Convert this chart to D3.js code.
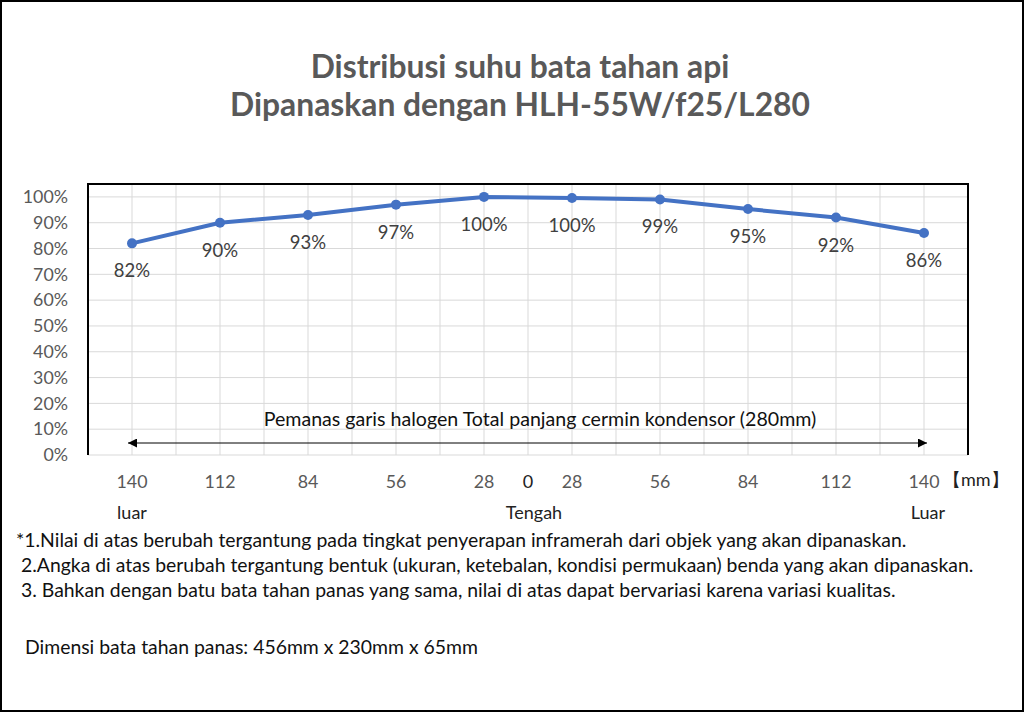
<!DOCTYPE html>
<html>
<head>
    <meta charset="utf-8" />
    <style>
        body { margin: 0; background: #fff; }
        svg text { font-family: Lato, "Open Sans", sans-serif; }
        .title { font-weight: bold; fill: #595959; font-size: 31.8px; }
        .grid line { stroke: #d9d9d9; stroke-width: 1; }
        .yaxis text { fill: #595959; font-size: 17.8px; }
        .xlab { fill: #595959; font-size: 17.8px; }
        .dark { fill: #222; font-size: 18px; }
        .arrowtext { fill: #111; font-size: 19.6px; }
        .dlabel { fill: #404040; font-size: 18.5px; }
        .note { fill: #111; font-size: 19.4px; }
    </style>
    <script src="https://d3js.org/d3.v7.min.js"></script>
</head>
<body>
<script>

// data
let positions = ["140", "112", "84", "56", "28", "28", "56", "84", "112", "140"];
let values = [0.82, 0.90, 0.93, 0.97, 1.00, 0.996, 0.99, 0.953, 0.92, 0.86];
let yTicks = [0, 0.1, 0.2, 0.3, 0.4, 0.5, 0.6, 0.7, 0.8, 0.9, 1.0];
let sideLabels = ["luar", "Tengah", "Luar"];
let titleLines = ["Distribusi suhu bata tahan api", "Dipanaskan dengan HLH-55W/f25/L280"];
let notes = [
    "*1.Nilai di atas berubah tergantung pada tingkat penyerapan inframerah dari objek yang akan dipanaskan.",
    " 2.Angka di atas berubah tergantung bentuk (ukuran, ketebalan, kondisi permukaan) benda yang akan dipanaskan.",
    " 3. Bahkan dengan batu bata tahan panas yang sama, nilai di atas dapat bervariasi karena variasi kualitas."
];
let dimensionNote = "Dimensi bata tahan panas: 456mm x 230mm x 65mm";
let arrowText = "Pemanas garis halogen Total panjang cermin kondensor (280mm)";

let W = 1024, H = 712;
let plot = { left: 88, right: 968, top: 184, bottom: 455 };

let svg = d3.select("body").append("svg")
    .attr("width", W)
    .attr("height", H);

svg.append("rect")
    .attr("x", 1).attr("y", 1)
    .attr("width", W - 2).attr("height", H - 2)
    .attr("fill", "#fff")
    .attr("stroke", "#000")
    .attr("stroke-width", 2);

// title
svg.selectAll("text.title")
    .data(titleLines)
    .enter()
    .append("text")
    .attr("class", "title")
    .attr("x", 520)
    .attr("y", (d, i) => 78 + i * 38)
    .attr("text-anchor", "middle")
    .text(d => d);

// scales
let idx = d3.range(positions.length);
let xScale = d3.scaleBand()
    .domain(idx)
    .range([plot.left, plot.right]);
let bw = xScale.bandwidth();
let cx = i => xScale(i) + bw / 2;

let yScale = d3.scaleLinear()
    .domain([0, 1.05])
    .range([plot.bottom, plot.top]);

// grid
let grid = svg.append("g").attr("class", "grid");
let vx = [];
idx.forEach(i => { vx.push(xScale(i)); vx.push(cx(i)); });
vx.push(plot.right);
grid.selectAll("line.v")
    .data(vx)
    .enter()
    .append("line")
    .attr("x1", d => d).attr("x2", d => d)
    .attr("y1", plot.top).attr("y2", plot.bottom);
grid.selectAll("line.h")
    .data(yTicks)
    .enter()
    .append("line")
    .attr("x1", plot.left).attr("x2", plot.right)
    .attr("y1", d => yScale(d)).attr("y2", d => yScale(d));

// frame (top, left, right)
svg.append("path")
    .attr("d", "M" + plot.left + "," + plot.bottom + "V" + plot.top + "H" + plot.right + "V" + plot.bottom)
    .attr("fill", "none")
    .attr("stroke", "#000")
    .attr("stroke-width", 2);

// y axis
let yAxis = d3.axisLeft(yScale)
    .tickValues(yTicks)
    .tickFormat(d3.format(".0%"))
    .tickSize(0)
    .tickPadding(20);
svg.append("g")
    .attr("class", "yaxis")
    .attr("transform", "translate(" + plot.left + ",0)")
    .call(yAxis)
    .call(g => g.select(".domain").remove())
    .selectAll("text")
    .style("font-family", "Lato, sans-serif");

// arrow
let defs = svg.append("defs");
["start", "end"].forEach(k => {
    defs.append("marker")
        .attr("id", "arr-" + k)
        .attr("viewBox", "0 0 10 10")
        .attr("refX", k == "end" ? 10 : 0).attr("refY", 5)
        .attr("markerWidth", 11).attr("markerHeight", 9)
        .attr("markerUnits", "userSpaceOnUse")
        .attr("orient", "auto")
        .append("path")
        .attr("d", k == "end" ? "M0,0L10,5L0,10Z" : "M10,0L0,5L10,10Z")
        .attr("fill", "#000");
});
svg.append("line")
    .attr("x1", cx(0) - 4).attr("x2", cx(positions.length - 1) + 3)
    .attr("y1", 443).attr("y2", 443)
    .attr("stroke", "#000")
    .attr("stroke-width", 1)
    .attr("marker-start", "url(#arr-start)")
    .attr("marker-end", "url(#arr-end)");
svg.append("text")
    .attr("class", "arrowtext")
    .attr("x", 540).attr("y", 426)
    .attr("text-anchor", "middle")
    .text(arrowText);

// line + points
let line = d3.line()
    .x((d, i) => cx(i))
    .y(d => yScale(d));
svg.append("path")
    .datum(values)
    .attr("d", line)
    .attr("fill", "none")
    .attr("stroke", "#4472c4")
    .attr("stroke-width", 4)
    .attr("stroke-linejoin", "round");
svg.selectAll("circle.pt")
    .data(values)
    .enter()
    .append("circle")
    .attr("class", "pt")
    .attr("cx", (d, i) => cx(i))
    .attr("cy", d => yScale(d))
    .attr("r", 5)
    .attr("fill", "#4472c4");
svg.selectAll("text.dlabel")
    .data(values)
    .enter()
    .append("text")
    .attr("class", "dlabel")
    .attr("x", (d, i) => cx(i))
    .attr("y", d => yScale(d) + 34)
    .attr("text-anchor", "middle")
    .text(d => d3.format(".0%")(d));

// x labels
svg.selectAll("text.xlab")
    .data(positions)
    .enter()
    .append("text")
    .attr("class", "xlab")
    .attr("x", (d, i) => cx(i))
    .attr("y", 488)
    .attr("text-anchor", "middle")
    .text(d => d);
svg.append("text")
    .attr("class", "dark")
    .attr("x", xScale(5)).attr("y", 488)
    .attr("text-anchor", "middle")
    .text("0");
svg.append("text")
    .attr("class", "dark")
    .attr("x", 943).attr("y", 486)
    .text("【mm】");
svg.selectAll("text.side")
    .data(sideLabels)
    .enter()
    .append("text")
    .attr("class", "dark side")
    .attr("x", (d, i) => [cx(0), xScale(5) + 6, cx(positions.length - 1) + 4][i])
    .attr("y", 519)
    .attr("text-anchor", "middle")
    .text(d => d);

// notes
svg.selectAll("text.note")
    .data(notes)
    .enter()
    .append("text")
    .attr("class", "note")
    .attr("x", 16)
    .attr("y", (d, i) => 547 + i * 25)
    .attr("xml:space", "preserve")
    .style("white-space", "pre")
    .text(d => d);
svg.append("text")
    .attr("class", "note")
    .attr("x", 25).attr("y", 654)
    .text(dimensionNote);

</script>
</body>
</html>
